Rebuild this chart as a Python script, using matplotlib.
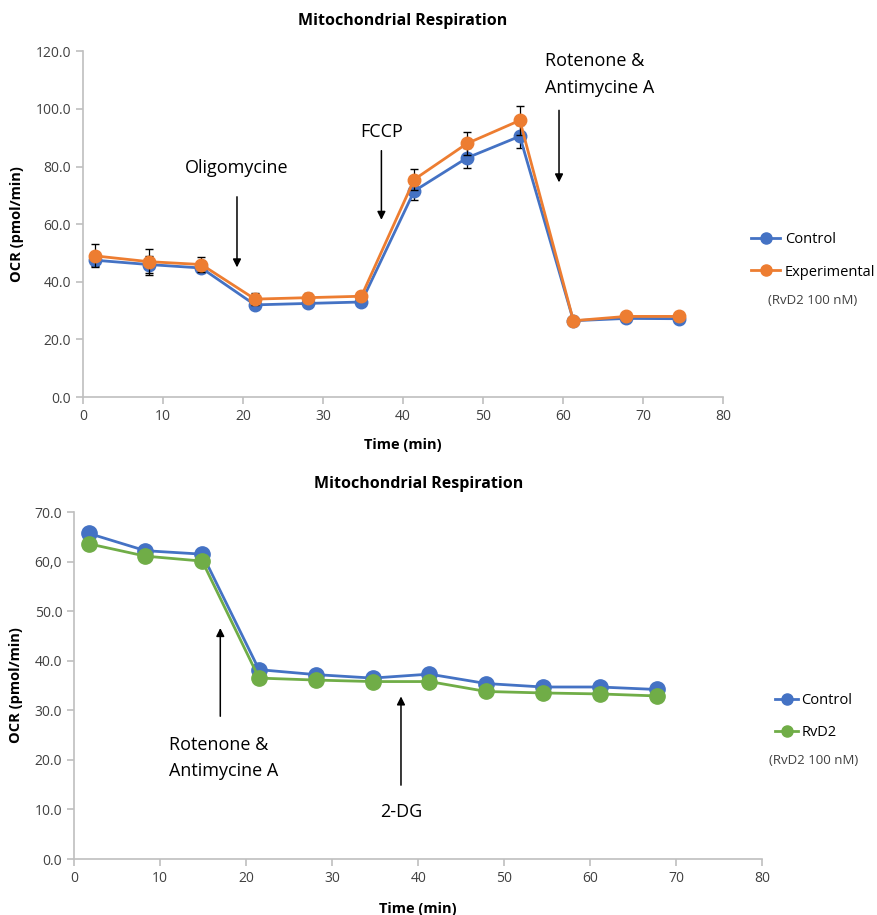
"""
Mitochondrial respiration (OCR) traces, control vs RvD2 treatment
"""

import numpy as np
import matplotlib.pyplot as plt
from matplotlib.lines import Line2D

plt.rcParams['font.family'] = ['Open Sans', 'DejaVu Sans']

# top panel: mito stress test
time_top = [1.5, 8.2, 14.8, 21.5, 28.1, 34.8, 41.4, 48.0, 54.6, 61.3, 67.9, 74.5]
control_top = [47.5, 46.0, 44.8, 32.0, 32.5, 33.0, 71.5, 83.0, 90.5, 26.5, 27.3, 27.2]
control_top_err = [2.0, 3.0, 1.5, 1.0, 1.0, 1.0, 3.0, 3.5, 4.0, 1.0, 1.2, 1.0]
exp_top = [49.0, 47.0, 46.0, 34.0, 34.5, 35.0, 75.5, 88.0, 96.0, 26.5, 28.0, 28.0]
exp_top_err = [4.0, 4.5, 2.5, 2.0, 1.5, 1.0, 3.5, 4.0, 5.0, 0.8, 0.8, 0.8]

# bottom panel: glycolysis-type protocol
time_bot = [1.7, 8.3, 14.9, 21.5, 28.1, 34.7, 41.3, 47.9, 54.5, 61.1, 67.7]
control_bot = [65.7, 62.2, 61.5, 38.2, 37.2, 36.5, 37.3, 35.4, 34.7, 34.7, 34.2]
rvd2_bot = [63.6, 61.1, 60.1, 36.5, 36.1, 35.8, 35.8, 33.8, 33.5, 33.3, 32.9]

top_yticks = np.arange(0, 121, 20)
bot_yticks = np.arange(0, 71, 10)
bot_ylabels = ['0.0', '10.0', '20.0', '30.0', '40.0', '50.0', '60,0', '70.0']

BLUE = '#4472C4'
ORANGE = '#ED7D31'
GREEN = '#70AD47'
GRAY = '#bfbfbf'
TXT = '#404040'


def style_axes(ax):
    for s in ['top', 'right']:
        ax.spines[s].set_visible(False)
    for s in ['left', 'bottom']:
        ax.spines[s].set_color(GRAY)
        ax.spines[s].set_linewidth(1.2)
    ax.tick_params(colors=GRAY, labelcolor=TXT, labelsize=10, length=5, width=1.2)
    ax.set_xlim(0, 80)
    ax.set_xticks(np.arange(0, 81, 10))


def arrow(ax, x, y0, y1):
    ax.annotate('', xy=(x, y1), xytext=(x, y0),
                arrowprops=dict(arrowstyle='-|>', color='black', lw=1.1,
                                mutation_scale=12, shrinkA=0, shrinkB=0))


def handle(color, label):
    return Line2D([], [], color=color, lw=2, marker='o', ms=8, label=label)


fig = plt.figure(figsize=(8.78, 9.15), dpi=100)

# ---- top ----
ax1 = fig.add_axes([0.0945, 0.566, 0.729, 0.378])
style_axes(ax1)
ax1.set_ylim(0, 120)
ax1.set_yticks(top_yticks)
ax1.set_yticklabels([f'{v:.1f}' for v in top_yticks])

ax1.errorbar(time_top, control_top, yerr=control_top_err, color=BLUE, lw=2,
             marker='o', ms=9, ecolor='black', elinewidth=0.9, capsize=3, zorder=3)
ax1.errorbar(time_top, exp_top, yerr=exp_top_err, color=ORANGE, lw=2,
             marker='o', ms=9, ecolor='black', elinewidth=0.9, capsize=3, zorder=4)

ax1.set_title('Mitochondrial Respiration', fontsize=11.5, fontweight='bold', pad=19)
ax1.set_xlabel('Time (min)', fontsize=10.5, fontweight='bold', labelpad=10)
ax1.set_ylabel('OCR (pmol/min)', fontsize=10.5, fontweight='bold', labelpad=8)

ax1.text(19.25, 76.4, 'Oligomycine', fontsize=13, ha='center', va='bottom')
arrow(ax1, 19.25, 69.5, 45)
ax1.text(37.3, 89, 'FCCP', fontsize=13, ha='center', va='bottom')
arrow(ax1, 37.3, 85.5, 61.5)
ax1.text(57.8, 111.9, 'Rotenone &\nAntimycine A', fontsize=13, ha='left', va='center', linespacing=1.6)
arrow(ax1, 59.5, 99.5, 74.5)

ax1.legend(handles=[handle(BLUE, 'Control'), handle(ORANGE, 'Experimental')],
           loc='upper left', bbox_to_anchor=(1.035, 0.494), frameon=False,
           fontsize=10.5, handlelength=2.0, handletextpad=0.3, labelspacing=1.2,
           borderaxespad=0)
ax1.text(1.07, 0.28, '(RvD2 100 nM)', transform=ax1.transAxes, fontsize=9.5,
         color=TXT, ha='left', va='center')

# ---- bottom ----
ax2 = fig.add_axes([0.0843, 0.0612, 0.784, 0.3792])
style_axes(ax2)
ax2.set_ylim(0, 70)
ax2.set_yticks(bot_yticks)
ax2.set_yticklabels(bot_ylabels)

ax2.plot(time_bot, control_bot, color=BLUE, lw=2, marker='o', ms=11, zorder=3)
ax2.plot(time_bot, rvd2_bot, color=GREEN, lw=2, marker='o', ms=11, zorder=4)

ax2.set_title('Mitochondrial Respiration', fontsize=11.5, fontweight='bold', pad=17)
ax2.set_xlabel('Time (min)', fontsize=10.5, fontweight='bold', labelpad=12)
ax2.set_ylabel('OCR (pmol/min)', fontsize=10.5, fontweight='bold', labelpad=8)

arrow(ax2, 17.0, 28.8, 46.6)
ax2.text(11.0, 20.4, 'Rotenone &\nAntimycine A', fontsize=13, ha='left', va='center', linespacing=1.6)
arrow(ax2, 38.0, 14.9, 32.8)
ax2.text(38.0, 9.5, '2-DG', fontsize=13, ha='center', va='center')

ax2.legend(handles=[handle(BLUE, 'Control'), handle(GREEN, 'RvD2')],
           loc='upper left', bbox_to_anchor=(1.01, 0.496), frameon=False,
           fontsize=10.5, handlelength=1.6, handletextpad=0.2, labelspacing=1.2,
           borderaxespad=0)
ax2.text(1.009, 0.285, '(RvD2 100 nM)', transform=ax2.transAxes, fontsize=9.5,
         color=TXT, ha='left', va='center')

fig.savefig('out.png', dpi=100)
